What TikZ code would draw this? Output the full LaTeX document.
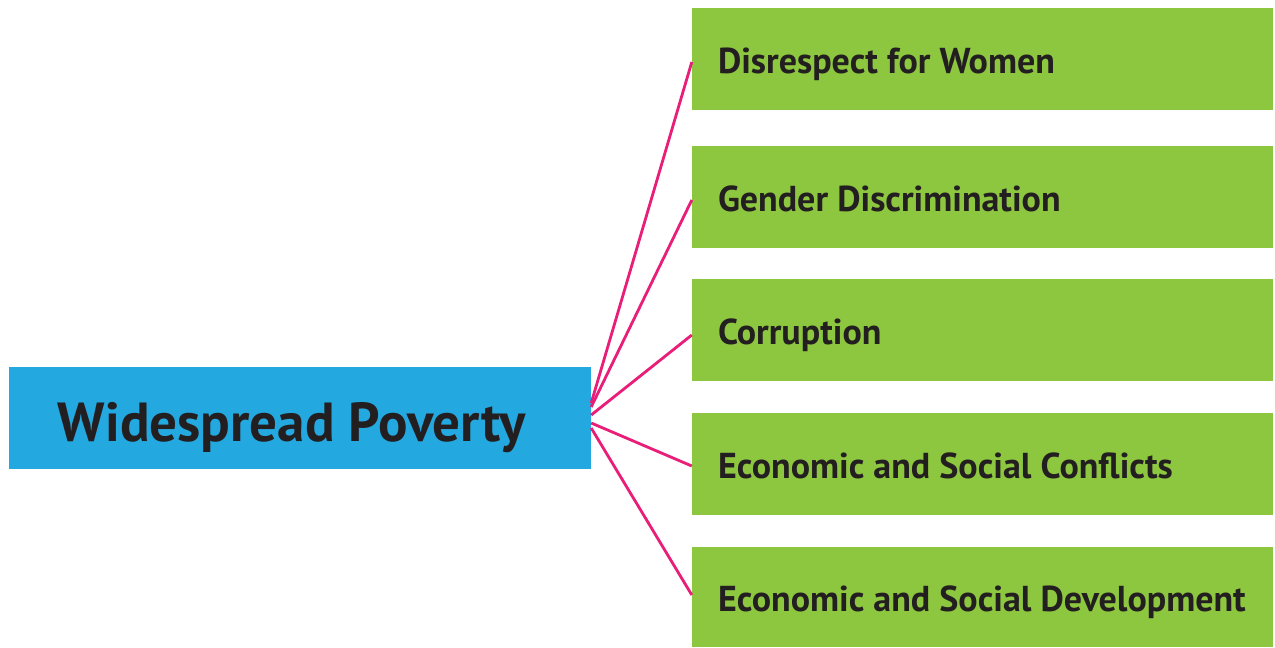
\documentclass[tikz,border=0pt]{standalone}
\usepackage{fontspec}
\setmainfont{PT Sans}
\usepackage{tikz}
\usetikzlibrary{shapes}

\definecolor{povblue}{HTML}{23A8E0}
\definecolor{causegreen}{HTML}{8DC63F}
\definecolor{linkpink}{HTML}{E91E78}
\definecolor{textdark}{HTML}{231F20}

\begin{document}
\begin{tikzpicture}[x=1pt, y=-1pt,
        root/.style = {fill=povblue, minimum width=582pt, minimum height=102pt, inner sep=0pt,
                text=textdark, font=\bfseries\fontsize{55}{58}\selectfont,
                text height=46pt, text depth=0pt,
                execute at end node={\hspace*{16pt}}},
        cause/.style = {fill=causegreen, minimum width=581pt, minimum height=102pt, inner sep=0pt,
                text=textdark, font=\bfseries\fontsize{36}{38}\selectfont,
                text height=28pt, text depth=0pt,
                execute at begin node={\hbox to 529pt\bgroup},
                execute at end node={\hss\egroup}},
        link/.style = {draw=linkpink, line width=2.8pt}]
                \useasboundingbox (0, 0) rectangle (1275, 648);

                \node[root] at (300, 418) (poverty) {Widespread Poverty};

                \node[cause] at (982.5, 59) (women) {Disrespect for Women};
                \node[cause] at (982.5, 197) (gender) {Gender Discrimination};
                \node[cause] at (982.5, 330) (corrupt) {Corruption};
                \node[cause] at (982.5, 464) (conflict) {Economic and Social Conflicts};
                \node[cause, minimum height=100pt] at (982.5, 597) (develop) {Economic and Social Development};

                \draw [link] ([yshift=15pt]poverty.east) -- ([yshift=-3pt]women.west);
                \draw [link] ([yshift=11pt]poverty.east) -- ([yshift=-3pt]gender.west);
                \draw [link] ([yshift=3pt]poverty.east) -- ([yshift=-5pt]corrupt.west);
                \draw [link] ([yshift=-5pt]poverty.east) -- ([yshift=-2pt]conflict.west);
                \draw [link] ([yshift=-10pt]poverty.east) -- ([yshift=2pt]develop.west);
                \end{tikzpicture}
\end{document}
